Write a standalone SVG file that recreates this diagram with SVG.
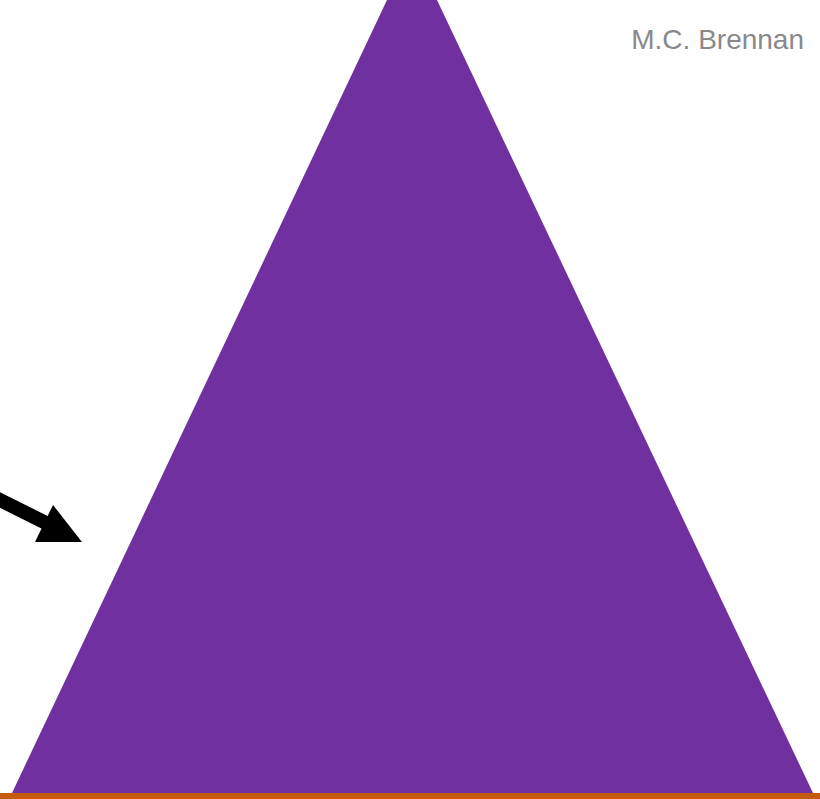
<svg xmlns="http://www.w3.org/2000/svg" width="820" height="799" viewBox="0 0 820 799">
<style>
.lbl{font-family:"Liberation Sans",Arial,sans-serif;font-size:28px;fill:#898989}
</style>
<rect width="820" height="799" fill="#ffffff"/>
<g id="triangle"><polygon points="387,0 437,0 813,793 12,793" fill="#7030A0"/></g>
<g id="base"><rect x="0" y="793" width="820" height="6" fill="#C55A11"/></g>
<g id="connectors">
<line x1="-5" y1="497.5" x2="48" y2="524" stroke="#000" stroke-width="14"/>
<polygon points="53,505 35,542 82,542" fill="#000"/>
</g>
<g id="author"><text class="lbl" x="804" y="49" text-anchor="end">M.C. Brennan</text></g>
</svg>
